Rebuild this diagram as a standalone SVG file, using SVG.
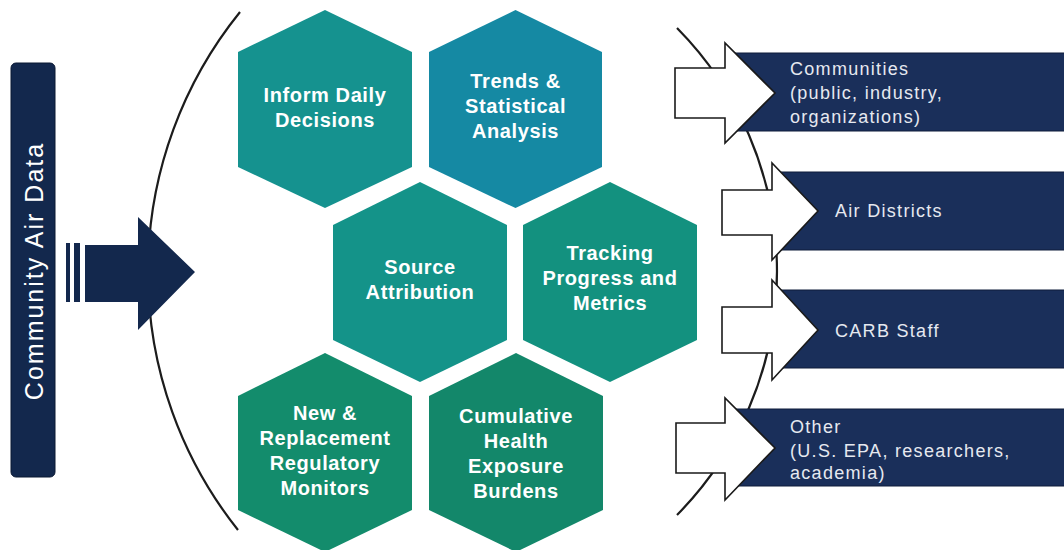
<svg xmlns="http://www.w3.org/2000/svg" width="1064" height="550" viewBox="0 0 1064 550">
<defs>
<style>
.hexlbl{font-family:"Liberation Sans",Arial,sans-serif;font-weight:bold;font-size:20px;letter-spacing:0.6px;fill:#ffffff;text-anchor:middle}
.outlbl{font-family:"Liberation Sans",Arial,sans-serif;font-size:18px;letter-spacing:1.3px;fill:#e6e9f0}
.bar{fill:#1a2f5a;stroke:#0f1d3a;stroke-width:1}
.wa{fill:#ffffff;stroke:#1a1a1a;stroke-width:1.6;stroke-linejoin:miter}
.arc{fill:none;stroke:#1c1c1c;stroke-width:2.2}
</style>
</defs>
<rect width="1064" height="550" fill="#ffffff"/>

<g id="connectors">
<path class="arc" d="M240,12 A414,414 0 0 0 238,530"/>
<path class="arc" d="M677,28 A346.5,346.5 0 0 1 677,515"/>
<rect x="66" y="243" width="4" height="59" fill="#13284d"/>
<rect x="74" y="243" width="6" height="59" fill="#13284d"/>
<polygon points="85,245 138,245 138,217 195,272 138,330 138,302 85,302" fill="#13284d"/>
</g>

<g id="source">
<rect x="11" y="63" width="44" height="414" rx="5" fill="#13284d" stroke="#0a1833" stroke-width="1"/>
<text transform="translate(43,271) rotate(-90)" text-anchor="middle" font-family="'Liberation Sans',Arial,sans-serif" font-size="25" letter-spacing="2" fill="#ffffff">Community Air Data</text>
</g>

<g id="hex-inform">
<polygon points="325,10 412,52 412,167 325,208 238,167 238,52" fill="#15928f"/>
<text class="hexlbl" x="325" y="102">Inform Daily</text>
<text class="hexlbl" x="325" y="127">Decisions</text>
</g>
<g id="hex-trends">
<polygon points="515.5,10 602,52 602,167 515.5,208 429,167 429,52" fill="#1589a3"/>
<text class="hexlbl" x="515.5" y="88">Trends &amp;</text>
<text class="hexlbl" x="515.5" y="113">Statistical</text>
<text class="hexlbl" x="515.5" y="138">Analysis</text>
</g>
<g id="hex-source">
<polygon points="420,182 507,225 507,340 420,382 333,340 333,225" fill="#149389"/>
<text class="hexlbl" x="420" y="274">Source</text>
<text class="hexlbl" x="420" y="299">Attribution</text>
</g>
<g id="hex-tracking">
<polygon points="610,182 697,225 697,340 610,382 523,340 523,225" fill="#13917f"/>
<text class="hexlbl" x="610" y="260">Tracking</text>
<text class="hexlbl" x="610" y="285">Progress and</text>
<text class="hexlbl" x="610" y="310">Metrics</text>
</g>
<g id="hex-monitors">
<polygon points="325,353 412,396 412,510 325,552 238,510 238,396" fill="#138c6c"/>
<text class="hexlbl" x="325" y="420">New &amp;</text>
<text class="hexlbl" x="325" y="445">Replacement</text>
<text class="hexlbl" x="325" y="470">Regulatory</text>
<text class="hexlbl" x="325" y="495">Monitors</text>
</g>
<g id="hex-cumulative">
<polygon points="516,353 603,396 603,510 516,552 429,510 429,396" fill="#13876a"/>
<text class="hexlbl" x="516" y="423">Cumulative</text>
<text class="hexlbl" x="516" y="448">Health</text>
<text class="hexlbl" x="516" y="473">Exposure</text>
<text class="hexlbl" x="516" y="498">Burdens</text>
</g>

<g id="out-communities">
<rect class="bar" x="730" y="53" width="340" height="78"/>
<polygon class="wa" points="675,68 725,68 725,43 775,93 725,143 725,118 675,118"/>
<text class="outlbl" x="790" y="75">Communities</text>
<text class="outlbl" x="790" y="99">(public, industry,</text>
<text class="outlbl" x="790" y="123">organizations)</text>
</g>
<g id="out-districts">
<rect class="bar" x="776" y="172" width="294" height="78"/>
<polygon class="wa" points="722,190 772,190 772,163 818,211 772,260 772,235 722,235"/>
<text class="outlbl" x="835" y="217">Air Districts</text>
</g>
<g id="out-carb">
<rect class="bar" x="776" y="290" width="294" height="78"/>
<polygon class="wa" points="722,307 772,307 772,280 818,330 772,380 772,353 722,353"/>
<text class="outlbl" x="835" y="337">CARB Staff</text>
</g>
<g id="out-other">
<rect class="bar" x="730" y="409" width="340" height="77"/>
<polygon class="wa" points="676,423 725,423 725,398 775,448 725,500 725,473 676,473"/>
<text class="outlbl" x="790" y="433">Other</text>
<text class="outlbl" x="790" y="457">(U.S. EPA, researchers,</text>
<text class="outlbl" x="790" y="479">academia)</text>
</g>
</svg>
